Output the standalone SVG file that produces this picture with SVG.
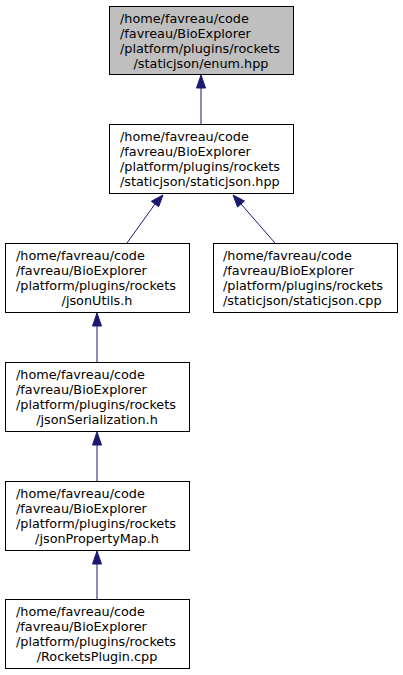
<svg xmlns="http://www.w3.org/2000/svg" width="403" height="675" viewBox="0 0 403 675">
<style>
.box{fill:#ffffff;stroke:#000000;stroke-width:1}
.hl{fill:#bfbfbf}
text{font-family:"DejaVu Sans",sans-serif;font-size:12.8px;fill:#000000}
.edge{stroke:#191970;stroke-width:1;fill:none}
.head{fill:#191970;stroke:#191970;stroke-width:1}
</style>
<rect width="403" height="675" fill="#ffffff"/>
<g id="connectors">
<line class="edge" x1="201" y1="88" x2="201" y2="124"/>
<polygon class="head" points="201,75 196.5,88 205.5,88"/>
<line class="edge" x1="155" y1="204" x2="127" y2="243"/>
<polygon class="head" points="163,195 151.3,201.3 158.7,206.7"/>
<line class="edge" x1="241" y1="204" x2="275" y2="243"/>
<polygon class="head" points="233,195 237.5,207 244.5,201"/>
<line class="edge" x1="97" y1="326" x2="97" y2="362"/>
<polygon class="head" points="97,313 92.5,326 101.5,326"/>
<line class="edge" x1="97" y1="445" x2="97" y2="481"/>
<polygon class="head" points="97,432 92.5,445 101.5,445"/>
<line class="edge" x1="97" y1="564" x2="97" y2="599"/>
<polygon class="head" points="97,551 92.5,564 101.5,564"/>
</g>
<g id="node1">
<rect class="box hl" x="109.5" y="6.5" width="184" height="68"/>
<text x="120" y="22.5">/home/favreau/code</text>
<text x="120" y="37.5">/favreau/BioExplorer</text>
<text x="120" y="52.5">/platform/plugins/rockets</text>
<text text-anchor="middle" x="201" y="67.5">/staticjson/enum.hpp</text>
</g>
<g id="node2">
<rect class="box" x="109.5" y="124.5" width="184" height="69"/>
<text x="120" y="140.5">/home/favreau/code</text>
<text x="120" y="155.5">/favreau/BioExplorer</text>
<text x="120" y="170.5">/platform/plugins/rockets</text>
<text x="120" y="185.5">/staticjson/staticjson.hpp</text>
</g>
<g id="node3">
<rect class="box" x="5.5" y="243.5" width="184" height="69"/>
<text x="16" y="259.5">/home/favreau/code</text>
<text x="16" y="274.5">/favreau/BioExplorer</text>
<text x="16" y="289.5">/platform/plugins/rockets</text>
<text text-anchor="middle" x="97" y="304.5">/jsonUtils.h</text>
</g>
<g id="node4">
<rect class="box" x="213.5" y="243.5" width="184" height="69"/>
<text x="223" y="259.5">/home/favreau/code</text>
<text x="223" y="274.5">/favreau/BioExplorer</text>
<text x="223" y="289.5">/platform/plugins/rockets</text>
<text x="223" y="304.5">/staticjson/staticjson.cpp</text>
</g>
<g id="node5">
<rect class="box" x="5.5" y="362.5" width="184" height="69"/>
<text x="16" y="378.5">/home/favreau/code</text>
<text x="16" y="393.5">/favreau/BioExplorer</text>
<text x="16" y="408.5">/platform/plugins/rockets</text>
<text text-anchor="middle" x="97" y="423.5">/jsonSerialization.h</text>
</g>
<g id="node6">
<rect class="box" x="5.5" y="481.5" width="184" height="69"/>
<text x="16" y="497.5">/home/favreau/code</text>
<text x="16" y="512.5">/favreau/BioExplorer</text>
<text x="16" y="527.5">/platform/plugins/rockets</text>
<text text-anchor="middle" x="97" y="542.5">/jsonPropertyMap.h</text>
</g>
<g id="node7">
<rect class="box" x="5.5" y="599.5" width="184" height="69"/>
<text x="16" y="615.5">/home/favreau/code</text>
<text x="16" y="630.5">/favreau/BioExplorer</text>
<text x="16" y="645.5">/platform/plugins/rockets</text>
<text text-anchor="middle" x="97" y="660.5">/RocketsPlugin.cpp</text>
</g>
</svg>
